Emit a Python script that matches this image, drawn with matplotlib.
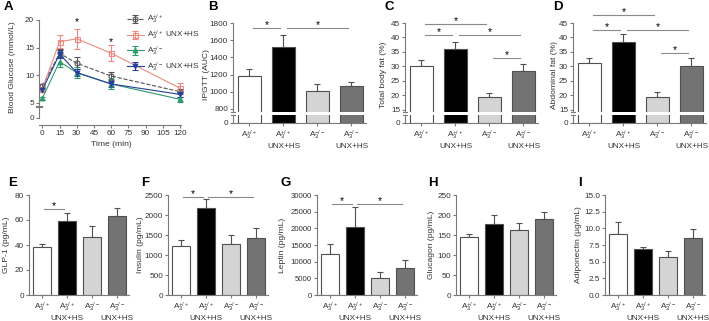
import numpy as np
import matplotlib
matplotlib.use("Agg")
import matplotlib.pyplot as plt

plt.rcParams["font.family"] = ["Liberation Sans", "DejaVu Sans"]
plt.rcParams["mathtext.fontset"] = "custom"
plt.rcParams["mathtext.rm"] = "Liberation Sans"
plt.rcParams["mathtext.it"] = "Liberation Sans:italic"
plt.rcParams["mathtext.bf"] = "Liberation Sans:bold"

W, H = 709, 321
FS = 5.9
AX = "#7a7a7a"
TXT = "#333333"

# ---- data (mean, SEM) ----
time = [0, 15, 30, 60, 120]
glu_wt = [8.07, 13.97, 12.17, 9.87, 7.04]
glu_wt_err = [0.4, 0.7, 1.05, 0.8, 0.5]
glu_wt_unx = [7.5, 16.08, 16.6, 14.0, 7.65]
glu_wt_unx_err = [0.4, 1.2, 1.8, 1.4, 1.0]
glu_ko = [5.84, 12.47, 10.47, 8.43, 5.66]
glu_ko_err = [0.3, 1.05, 1.0, 0.9, 0.4]
glu_ko_unx = [7.34, 13.85, 10.5, 8.43, 6.55]
glu_ko_unx_err = [0.4, 0.8, 0.7, 0.6, 0.4]
glu_star_t = [30, 60]
glu_star_y = [19.6, 16.0]

groups = [r"A$_3^{+/+}$", "A$_3^{+/+}$\nUNX+HS", r"A$_3^{-/-}$", "A$_3^{-/-}$\nUNX+HS"]
ipgtt = [1188, 1521, 1013, 1071]
ipgtt_err = [81, 143, 82, 47]
total_fat = [30.2, 36.0, 19.4, 28.6]
total_fat_err = [2.1, 2.4, 1.4, 2.3]
abd_fat = [31.1, 38.6, 19.6, 30.3]
abd_fat_err = [2.0, 2.7, 1.5, 2.6]
glp1 = [38.7, 59.2, 46.1, 63.2]
glp1_err = [2.3, 6.1, 9.4, 6.1]
insulin = [1225, 2167, 1275, 1433]
insulin_err = [150, 225, 225, 234]
leptin = [12300, 20470, 5120, 8170]
leptin_err = [2950, 5810, 1780, 2460]
glucagon = [144, 177.5, 162.5, 189]
glucagon_err = [9, 22.5, 16.5, 18]
adipo = [9.15, 6.85, 5.7, 8.6]
adipo_err = [1.75, 0.4, 0.9, 1.3]

bar_colors = ["white", "black", "#d4d4d4", "#737373"]

fig = plt.figure(figsize=(W / 100, H / 100), dpi=100)


def px_axes(x0, y0, x1, y1):
    return fig.add_axes([x0 / W, 1 - y1 / H, (x1 - x0) / W, (y1 - y0) / H])


def style(ax, left=True, bottom=True):
    for s in ["top", "right"]:
        ax.spines[s].set_visible(False)
    ax.spines["left"].set_visible(left)
    ax.spines["bottom"].set_visible(bottom)
    for s in ["left", "bottom"]:
        ax.spines[s].set_color(AX)
        ax.spines[s].set_linewidth(0.8)
    ax.tick_params(colors=AX, labelcolor=TXT, labelsize=FS, width=0.8,
                   length=2, pad=1.5)
    ax.patch.set_alpha(0)


def brk(ax, y):
    ax.plot([-0.018, 0.018], [y, y], transform=ax.transAxes, color=AX,
            lw=0.8, clip_on=False)


def bars(ax, vals, errs, width):
    x = np.arange(len(vals))
    ax.bar(x, vals, width=width, color=bar_colors, edgecolor="#505050",
           linewidth=0.8, zorder=2)
    ax.errorbar(x, vals, yerr=[np.zeros(len(vals)), errs], fmt="none",
                ecolor="#505050", elinewidth=0.8, capsize=2.2,
                capthick=0.8, zorder=1)


def sig(ax, pairs):
    for i, j, y in pairs:
        ax.plot([i + 0.1, j - 0.1], [y, y], color="#8a8a8a", lw=0.8,
                clip_on=False)
        ax.annotate("*", ((i + j) / 2, y), xytext=(0, -1.5),
                    textcoords="offset points", ha="center", va="bottom",
                    fontsize=7.5, color="black", annotation_clip=False)


def letter(x, y, s):
    fig.text(x / W, 1 - y / H, s, fontsize=9.5, fontweight="bold",
             ha="center", va="center")


def ylab(x, y, s):
    fig.text(x / W, 1 - y / H, s, fontsize=FS + 0.2, rotation=90,
             ha="center", va="center", color=TXT)


# ---- panel A ----
axA = px_axes(39, 20, 183, 106)
axA0 = px_axes(39, 107, 183, 125)
style(axA, bottom=False)
style(axA0)
xl = (-2.9, 122.5)
axA.set_xlim(xl)
axA0.set_xlim(xl)
axA.set_ylim(4.45, 20)
axA.set_yticks([5, 10, 15, 20])
axA.set_xticks([])
axA0.set_ylim(-1.27, 1.99)
axA0.spines["left"].set_bounds(0, 1.99)
axA0.set_yticks([0])
axA0.set_xticks(range(0, 121, 15))
axA0.spines["bottom"].set_bounds(-2.9, 121)
brk(axA, 0.0)
brk(axA0, 1.0)

series = [
    (glu_wt, glu_wt_err, "#555555", "o", "none", "--", r"A$_3^{+/+}$"),
    (glu_wt_unx, glu_wt_unx_err, "#ec8a80", "s", "none", "-", r"A$_3^{+/+}$ UNX+HS"),
    (glu_ko, glu_ko_err, "#2e9a6a", "^", "#2e9a6a", "-", r"A$_3^{-/-}$"),
    (glu_ko_unx, glu_ko_unx_err, "#25409a", "v", "#25409a", "-", r"A$_3^{-/-}$ UNX+HS"),
]
handles = []
for vals, errs, c, m, mfc, ls, lab in series:
    h = axA.errorbar(time, vals, yerr=errs, color=c, marker=m, mfc=mfc,
                     mec=c, ms=3.6 if m in "os" else 3.4, lw=0.8, ls=ls,
                     elinewidth=0.8, capsize=2, capthick=0.8, label=lab,
                     mew=0.8)
    handles.append(h)
for t, y in zip(glu_star_t, glu_star_y):
    axA.text(t, y, "*", ha="center", va="center", fontsize=7.5)
leg = axA.legend(handles=handles, loc="upper left",
                 bbox_to_anchor=((124 - 39) / 144, 1.12), frameon=False,
                 fontsize=FS, handlelength=2.0, handletextpad=0.4,
                 labelspacing=0.3, borderaxespad=0)
for t in leg.get_texts():
    t.set_color(TXT)
fig.text(111 / W, 1 - 144 / H, "Time (min)", fontsize=FS + 0.2,
         ha="center", va="center", color=TXT)
ylab(12, 67, "Blood Glucose (mmol/L)")
letter(8, 7, "A")


# ---- top row broken bar panels ----
def broken_panel(x0, vals, errs, ylo, yhi, ticks, sigs):
    xlim = (-0.485, -0.485 + 133 / 34)
    up = px_axes(x0, 23, x0 + 133, 112)
    lo = px_axes(x0, 115, x0 + 133, 123)
    style(up, bottom=False)
    style(lo)
    for a in (up, lo):
        a.set_xlim(xlim)
        bars(a, vals, errs, 0.68)
    up.set_ylim(ylo, yhi)
    up.set_yticks(ticks)
    up.set_xticks([])
    lo.set_ylim(0, 1)
    lo.set_yticks([0])
    lo.set_xticks(range(4))
    lo.set_xticklabels(groups)
    lo.tick_params(axis="x", pad=2)
    brk(up, 0.0)
    brk(lo, 1.0)
    sig(up, sigs)
    return up


broken_panel(233, ipgtt, ipgtt_err, 765, 1800, range(800, 1801, 200),
             [(0, 1, 1742), (1, 3, 1742)])
broken_panel(405, total_fat, total_fat_err, 14.31, 45, range(15, 46, 5),
             [(0, 2, 44.66), (0, 1, 40.9), (1, 3, 40.9), (2, 3, 32.9)])
broken_panel(573, abd_fat, abd_fat_err, 14.31, 45, range(15, 46, 5),
             [(0, 2, 47.8), (0, 1, 42.6), (1, 3, 42.6), (2, 3, 34.7)])
ylab(207, 75, "IPGTT (AUC)")
ylab(383, 75, "Total body fat (%)")
ylab(554, 75, "Abdominal fat (%)")
letter(213, 7, "B")
letter(389, 7, "C")
letter(558, 7, "D")


# ---- bottom row ----
def bottom_panel(x0, vals, errs, yhi, ticks, sigs, fmt=None):
    ax = px_axes(x0, 195, x0 + 100, 295)
    style(ax)
    ax.set_xlim(-0.51, 3.49)
    bars(ax, vals, errs, 0.7)
    ax.set_ylim(0, yhi)
    ax.set_yticks(ticks)
    if fmt:
        ax.set_yticklabels([fmt.format(t) for t in ticks])
    ax.set_xticks(range(4))
    ax.set_xticklabels(groups)
    ax.tick_params(axis="x", pad=2)
    sig(ax, sigs)
    return ax


bottom_panel(29, glp1, glp1_err, 80, range(0, 81, 20), [(0, 1, 68.8)])
bottom_panel(168, insulin, insulin_err, 2500, range(0, 2501, 500),
             [(0, 1, 2450), (1, 3, 2450)])
axG = bottom_panel(317, leptin, leptin_err, 30000, range(0, 30001, 5000),
                   [(0, 1, 27300), (1, 3, 27300)])
axG.tick_params(axis="y", labelsize=FS - 0.3)
bottom_panel(456, glucagon, glucagon_err, 250, range(0, 251, 50), [])
bottom_panel(605, adipo, adipo_err, 15, [0, 2.5, 5, 7.5, 10, 12.5, 15], [],
             fmt="{:.1f}")
ylab(7, 245, "GLP-1 (pg/mL)")
ylab(141, 245, "Insulin (pg/mL)")
ylab(282, 245, "Leptin (pg/mL)")
ylab(431, 245, "Glucagon (pg/mL)")
ylab(578, 245, "Adiponectin (µg/mL)")
letter(13, 183, "E")
letter(145, 183, "F")
letter(286, 183, "G")
letter(433, 183, "H")
letter(580, 183, "I")

fig.savefig("out.png", dpi=100)
